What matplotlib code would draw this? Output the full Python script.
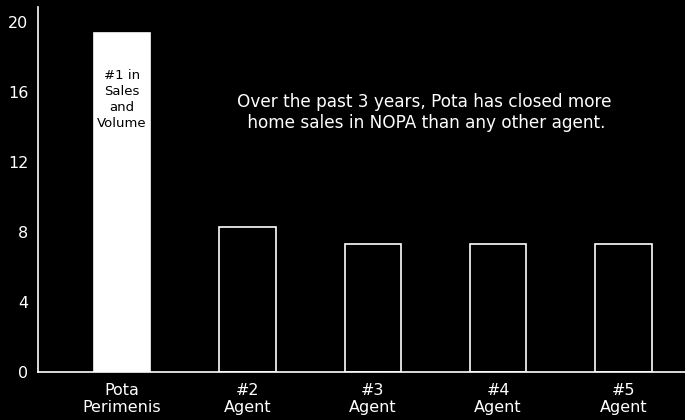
import numpy as np
import matplotlib.pyplot as plt

categories = ["Pota\nPerimenis", "#2\nAgent", "#3\nAgent", "#4\nAgent", "#5\nAgent"]
values = [19.4, 8.3, 7.3, 7.3, 7.3]
yticks = [0, 4, 8, 12, 16, 20]
note = "Over the past 3 years, Pota has closed more\n home sales in NOPA than any other agent."
badge = "#1 in\nSales\nand\nVolume"

plt.rcParams['font.family'] = ['DejaVu Sans']

my_dpi = 100
fig = plt.figure(figsize=(685/my_dpi, 420/my_dpi), dpi=my_dpi, facecolor='black')
ax = fig.add_axes([0.0555, 0.114, 0.9445, 0.869], facecolor='black')

x = np.arange(len(categories))
fills = ['white'] + ['black'] * (len(categories) - 1)
ax.bar(x, values, width=0.45, color=fills, edgecolor='white', linewidth=1.2)

ax.set_xlim(-0.67, 4.49)
ax.set_ylim(0, 20.86)
ax.set_yticks(yticks)
ax.set_xticks(x)
ax.set_xticklabels(categories, linespacing=1.15, fontsize=12)
ax.tick_params(colors='white', labelsize=11.5, length=0)
ax.tick_params(axis='y', pad=7)
ax.tick_params(axis='x', pad=8)
for s in ['top', 'right']:
    ax.spines[s].set_visible(False)
for s in ['left', 'bottom']:
    ax.spines[s].set_color('white')
    ax.spines[s].set_linewidth(1.2)

ax.text(x[0], 15.6, badge, ha='center', va='center', color='black', fontsize=9.5,
        linespacing=1.3)
ax.text(2.41, 14.85, note, ha='center', va='center', color='white', fontsize=12.2,
        linespacing=1.25)

plt.savefig('out.png', dpi=my_dpi, facecolor='black')
